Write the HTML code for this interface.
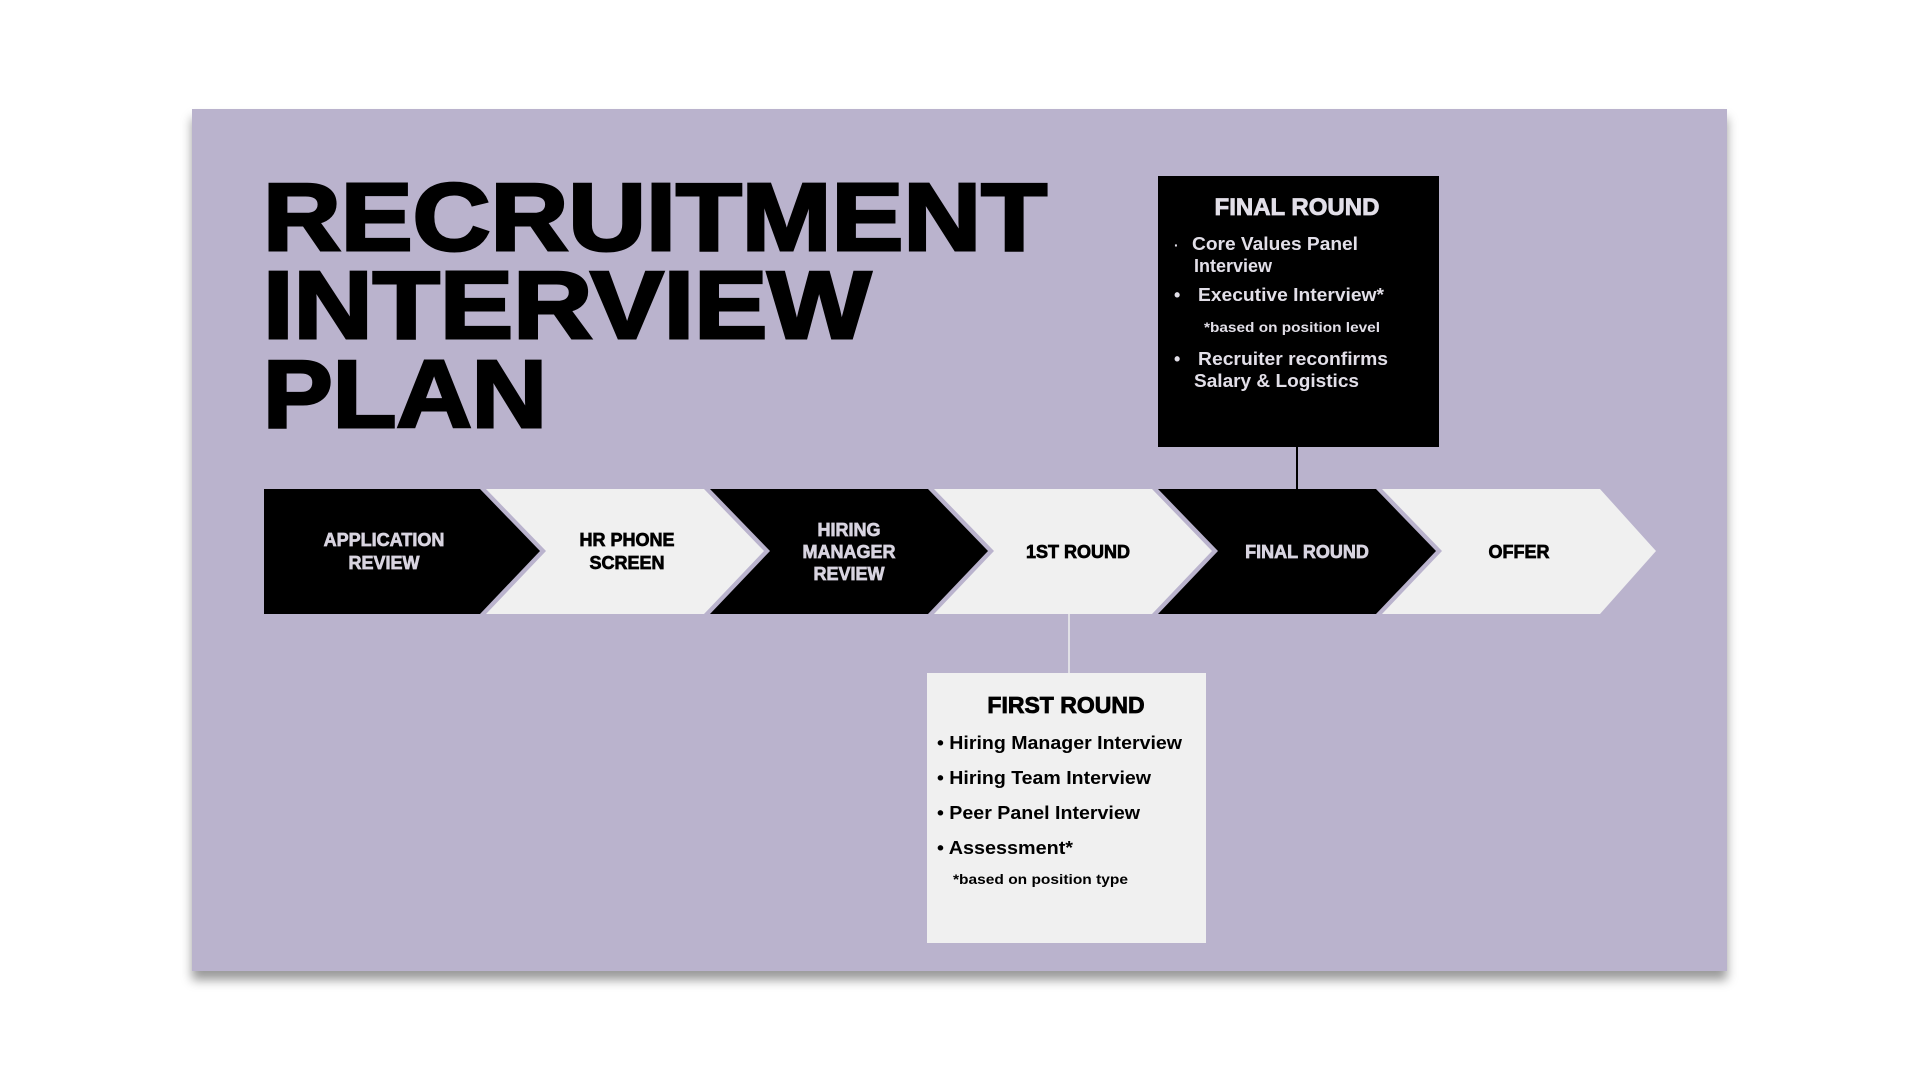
<!DOCTYPE html>
<html><head><meta charset="utf-8"><style>
html,body{margin:0;padding:0;background:#fff;width:1920px;height:1080px;overflow:hidden}
#p{position:absolute;left:192px;top:109px;width:1535px;height:862px;background:#bab3cd;box-shadow:0 9px 10px rgba(0,0,0,.4)}
svg{position:absolute;left:0;top:0}
text{font-family:"Liberation Sans",Arial,sans-serif;font-weight:bold}
</style></head><body>
<div id="p"></div>
<svg width="1920" height="1080" viewBox="0 0 1920 1080">
<g font-size="96" fill="#000" stroke="#000" stroke-width="3">
<text x="263" y="250" textLength="784" lengthAdjust="spacingAndGlyphs">RECRUITMENT</text>
<text x="263" y="338" textLength="608" lengthAdjust="spacingAndGlyphs">INTERVIEW</text>
<text x="263" y="427" textLength="284" lengthAdjust="spacingAndGlyphs">PLAN</text>
</g>
<rect x="1158" y="176" width="281" height="271" fill="#000"/>
<line x1="1297" y1="447" x2="1297" y2="490" stroke="#000" stroke-width="2"/>
<g fill="#e2dfe8" font-size="18">
<text x="1297" y="215" font-size="24" text-anchor="middle" stroke="#e2dfe8" stroke-width="0.8">FINAL ROUND</text>
<text x="1174" y="250" font-size="14">·</text>
<text x="1192" y="250" textLength="166" lengthAdjust="spacingAndGlyphs">Core Values Panel</text>
<text x="1194" y="272">Interview</text>
<text x="1174" y="301">•</text>
<text x="1198" y="301" textLength="186" lengthAdjust="spacingAndGlyphs">Executive Interview*</text>
<text x="1204" y="332" font-size="14" textLength="176" lengthAdjust="spacingAndGlyphs">*based on position level</text>
<text x="1174" y="365">•</text>
<text x="1198" y="365" textLength="190" lengthAdjust="spacingAndGlyphs">Recruiter reconfirms</text>
<text x="1194" y="387" textLength="165" lengthAdjust="spacingAndGlyphs">Salary &amp; Logistics</text>
</g>
<g>
<polygon points="264,489 480,489 540,551 480,614 264,614" fill="#000"/>
<polygon points="486,489 704,489 764,551 704,614 486,614 546,551" fill="#f0f0f0"/>
<polygon points="710,489 928,489 988,551 928,614 710,614 770,551" fill="#000"/>
<polygon points="934,489 1152,489 1212,551 1152,614 934,614 994,551" fill="#f0f0f0"/>
<polygon points="1158,489 1376,489 1436,551 1376,614 1158,614 1218,551" fill="#000"/>
<polygon points="1382,489 1600,489 1656,551 1600,614 1382,614 1442,551" fill="#f0f0f0"/>
</g>
<g font-size="18" text-anchor="middle" stroke-width="0.7">
<text x="384" y="546" fill="#d8d4e0" stroke="#d8d4e0">APPLICATION</text>
<text x="384" y="569" fill="#d8d4e0" stroke="#d8d4e0">REVIEW</text>
<text x="627" y="546" fill="#000" stroke="#000">HR PHONE</text>
<text x="627" y="569" fill="#000" stroke="#000">SCREEN</text>
<text x="849" y="536" fill="#d8d4e0" stroke="#d8d4e0">HIRING</text>
<text x="849" y="558" fill="#d8d4e0" stroke="#d8d4e0">MANAGER</text>
<text x="849" y="580" fill="#d8d4e0" stroke="#d8d4e0">REVIEW</text>
<text x="1078" y="558" fill="#000" stroke="#000">1ST ROUND</text>
<text x="1307" y="558" fill="#d8d4e0" stroke="#d8d4e0">FINAL ROUND</text>
<text x="1519" y="558" fill="#000" stroke="#000">OFFER</text>
</g>
<line x1="1069" y1="614" x2="1069" y2="673" stroke="#eee" stroke-width="1.5"/>
<rect x="927" y="673" width="279" height="270" fill="#f0f0f0"/>
<g fill="#000" font-size="18">
<text x="1066" y="713" font-size="23" text-anchor="middle" stroke="#000" stroke-width="0.8">FIRST ROUND</text>
<text x="937" y="749" textLength="245" lengthAdjust="spacingAndGlyphs">• Hiring Manager Interview</text>
<text x="937" y="784" textLength="214" lengthAdjust="spacingAndGlyphs">• Hiring Team Interview</text>
<text x="937" y="819" textLength="203" lengthAdjust="spacingAndGlyphs">• Peer Panel Interview</text>
<text x="937" y="854" textLength="136" lengthAdjust="spacingAndGlyphs">• Assessment*</text>
<text x="953" y="884" font-size="14" textLength="175" lengthAdjust="spacingAndGlyphs">*based on position type</text>
</g>
</svg>
</body></html>
